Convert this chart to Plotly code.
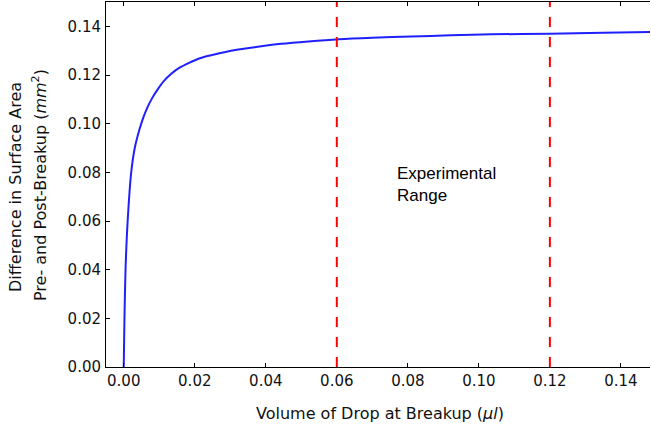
import plotly.graph_objects as go

# Curve values
volume_ul = [0.0, 0.0002, 0.0005, 0.0011, 0.0021, 0.0031, 0.0043, 0.0055, 0.0067,
             0.0080, 0.0095, 0.0114, 0.0133, 0.0156, 0.0184, 0.0217, 0.0255, 0.0302,
             0.0368, 0.0443, 0.0520, 0.0606, 0.0700, 0.0810, 0.0920, 0.1035, 0.1200,
             0.1350, 0.1488]
area_diff_mm2 = [0.0, 0.020, 0.040, 0.060, 0.080, 0.090, 0.097, 0.1025, 0.1068,
                 0.1105, 0.1140, 0.1177, 0.1204, 0.1229, 0.1250, 0.1270, 0.1284, 0.1300,
                 0.1314, 0.1328, 0.1338, 0.1347, 0.1353, 0.1358, 0.1363, 0.1367, 0.1370,
                 0.1374, 0.1377]

range_bounds = [0.06, 0.12]
x_ticks = [0.00, 0.02, 0.04, 0.06, 0.08, 0.10, 0.12, 0.14]
y_ticks = [0.00, 0.02, 0.04, 0.06, 0.08, 0.10, 0.12, 0.14]

tick_font = dict(family="DejaVu Sans", size=15, color="#111111")
label_font = dict(family="DejaVu Sans", size=16, color="#111111")

fig = go.Figure()
fig.add_trace(go.Scatter(
    x=volume_ul, y=area_diff_mm2, mode="lines",
    line=dict(color="#2020ff", width=2, shape="spline", smoothing=0.8),
    showlegend=False, hoverinfo="skip"))

for xb in range_bounds:
    fig.add_shape(type="line", xref="x", yref="paper", x0=xb, x1=xb, y0=0, y1=1,
                  line=dict(color="red", width=2, dash="10px,10px"))

fig.update_layout(
    width=651, height=426,
    margin=dict(l=106, r=1, t=2, b=59),
    paper_bgcolor="white", plot_bgcolor="white",
    xaxis=dict(range=[-0.0050, 0.1482], tickvals=x_ticks,
               ticktext=[f"{v:.2f}" for v in x_ticks],
               ticks="inside", ticklen=4, tickcolor="black",
               showline=True, linecolor="black", linewidth=1, mirror="ticks",
               showgrid=False, zeroline=False, tickfont=tick_font,
               ticklabelstandoff=0),
    yaxis=dict(range=[0, 0.15], tickvals=y_ticks,
               ticktext=[f"{v:.2f}" for v in y_ticks],
               ticks="inside", ticklen=4, tickcolor="black",
               showline=True, linecolor="black", linewidth=1,
               showgrid=False, zeroline=False, tickfont=tick_font,
               ticklabelstandoff=1),
)

fig.add_annotation(text="Volume of Drop at Breakup (<i>μl</i>)",
                   xref="paper", yref="paper", x=(380 - 106) / 544, y=-(413 - 367) / 365,
                   xanchor="center", yanchor="middle", showarrow=False, font=label_font)
fig.add_annotation(text="Difference in Surface Area",
                   xref="paper", yref="paper", x=-(106 - 15) / 544, y=(367 - 187) / 365,
                   xanchor="center", yanchor="middle", textangle=-90, showarrow=False,
                   font=label_font)
fig.add_annotation(text="Pre- and Post-Breakup (<i>mm</i><sup>2</sup>)",
                   xref="paper", yref="paper", x=-(106 - 39) / 544, y=(367 - 185) / 365,
                   xanchor="center", yanchor="middle", textangle=-90, showarrow=False,
                   font=label_font)
fig.add_annotation(text="Experimental<br>Range", xref="x", yref="y",
                   x=0.0765, y=0.0843, xanchor="left", yanchor="top", align="left",
                   showarrow=False,
                   font=dict(family="Liberation Sans", size=17, color="black"))

fig.write_html("out.html", config={"displayModeBar": False},
               post_script="document.body.style.margin='0';")
